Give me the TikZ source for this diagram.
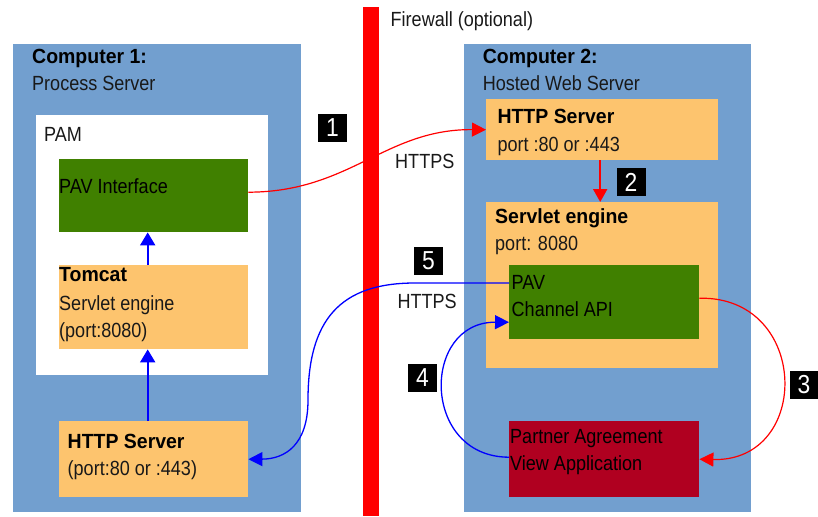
\documentclass[tikz,border=0pt]{standalone}
\usepackage{fontspec}
\setmainfont{Liberation Sans}[FakeStretch=0.88]
\newfontfamily\bfontfam{Liberation Sans}[FakeStretch=0.95]
\usetikzlibrary{arrows.meta}
\definecolor{compblue}{RGB}{114,159,207}
\definecolor{boxorange}{RGB}{253,196,110}
\definecolor{pavgreen}{RGB}{64,128,0}
\definecolor{pavred}{RGB}{176,0,32}
\definecolor{txtc}{RGB}{25,25,25}
\tikzset{
  panel/.style={fill=#1, draw=none, inner sep=0pt, anchor=north west},
  txt/.style={anchor=base west, inner sep=0pt, text=txtc, font=\fontsize{20.5}{24}\selectfont},
  btxt/.style={anchor=base west, inner sep=0pt, text=black, font=\bfontfam\bfseries\fontsize{20.5}{24}\selectfont},
  numbox/.style={fill=black, text=white, minimum width=29pt, minimum height=28pt, inner sep=0pt, font=\fontsize{26}{26}\selectfont},
  bluearrow/.style={draw=blue, line width=2pt, -{Triangle[length=13pt,width=15pt]}},
  redarrow/.style={draw=red, line width=2pt, -{Triangle[length=13pt,width=14pt]}},
  redcurve/.style={draw=red, line width=1.2pt, -{Triangle[length=14pt,width=14pt]}},
  bluecurve/.style={draw=blue, line width=1.3pt, -{Triangle[length=14pt,width=14pt]}}
}
\begin{document}
\begin{tikzpicture}[x=1pt,y=-1pt]
\useasboundingbox (0,0) rectangle (818,516);
% computers
\node[panel=compblue, minimum width=288pt, minimum height=468pt] (comp1) at (13,44) {};
\node[panel=compblue, minimum width=287pt, minimum height=468pt] (comp2) at (464,44) {};
\node[panel=white, minimum width=232pt, minimum height=260pt] (pam) at (36,115) {};
\node[panel=pavgreen, minimum width=189pt, minimum height=73pt] (pavint) at (59,159) {};
\node[panel=boxorange, minimum width=189pt, minimum height=84pt] (tomcat) at (59,265) {};
\node[panel=boxorange, minimum width=189pt, minimum height=76pt] (httpL) at (59,421) {};
\node[panel=boxorange, minimum width=232pt, minimum height=61pt] (httpR) at (486,99) {};
\node[panel=boxorange, minimum width=232pt, minimum height=166pt] (servlet) at (486,202) {};
\node[panel=pavgreen, minimum width=190pt, minimum height=74pt] (pavapi) at (509,265) {};
\node[panel=pavred, minimum width=190pt, minimum height=76pt] (partner) at (509,421) {};
% firewall
\node[panel=red, minimum width=16pt, minimum height=509pt] (firewall) at (363,7) {};
% texts
\node[txt] (fwt) at (390.5,26.7) {Firewall (optional)};
\node[btxt] (c1a) at (32,64) {Computer 1:};
\node[txt] (c1b) at (32,90.7) {Process Server};
\node[txt] (pamt) at (44,141.7) {PAM};
\node[txt, text=black] (pavintt) at (59,193.3) {PAV Interface};
\node[btxt] (tomt1) at (59,281.7) {Tomcat};
\node[txt] (tomt2) at (59,310) {Servlet engine};
\node[txt] (tomt3) at (59,337) {(port:8080)};
\node[btxt] (hlt1) at (67.5,448.3) {HTTP Server};
\node[txt] (hlt2) at (67.5,475.5) {(port:80 or :443)};
\node[btxt] (c2a) at (482.7,64) {Computer 2:};
\node[txt] (c2b) at (482.7,90.7) {Hosted Web Server};
\node[btxt] (hrt1) at (497.3,124) {HTTP Server};
\node[txt] (hrt2) at (497.3,151.7) {port :80 or :443};
\node[btxt] (svt1) at (495,223.3) {Servlet engine};
\node[txt] (svt2) at (495,250.7) {port: 8080};
\node[txt, text=black] (pat1) at (511.5,289) {PAV};
\node[txt, text=black] (pat2) at (511.5,316) {Channel API};
\node[txt, text=black] (prt1) at (510,443.3) {Partner Agreement};
\node[txt, text=black] (prt2) at (510,470.7) {View Application};
\node[txt] (https1) at (395,168.3) {HTTPS};
\node[txt] (https5) at (397.3,308.3) {HTTPS};
% number boxes
\node[numbox] (n1) at (332.5,128) {1};
\node[numbox] (n2) at (631,182) {2};
\node[numbox] (n3) at (804,385) {3};
\node[numbox] (n4) at (422.5,378) {4};
\node[numbox] (n5) at (428.5,261) {5};
% connectors
\draw[bluearrow] ([xshift=-6pt]httpL.north) -- ([xshift=-6pt]tomcat.south);
\draw[bluearrow] ([xshift=-6pt]tomcat.north) -- ([xshift=-6pt]pavint.south);
\draw[redarrow] ([xshift=-2pt]httpR.south) -- ([xshift=-2pt]servlet.north);
\draw[redcurve] ([yshift=3.5pt]pavint.east) .. controls (350,192) and (385,129) .. (httpR.west);
\draw[redcurve] ([yshift=4pt]pavapi.east) .. controls (810,296) and (812,462) .. (partner.east);
\draw[bluecurve] ([yshift=2pt]partner.west) .. controls (421,457) and (421,322) .. ([yshift=-20pt]pavapi.west);
\coordinate (c5) at (415,283);
\coordinate (c5b) at (308,400);
\draw[bluecurve] (pavapi.west |- c5) -- (c5) .. controls (340,283) and (308,320) .. (c5b) .. controls (308,445) and (285,459) .. (httpL.east);
\end{tikzpicture}
\end{document}
